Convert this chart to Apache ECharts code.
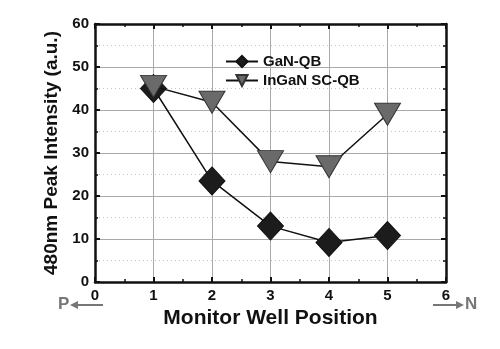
<!DOCTYPE html>
<html><head><meta charset="utf-8">
<script src="https://cdn.jsdelivr.net/npm/echarts@6/dist/echarts.min.js"></script>
<style>html,body{margin:0;padding:0;background:#fff}#c{width:500px;height:349px}</style>
</head><body><div id="c"></div>
<script>
const positions = [1, 2, 3, 4, 5];
const ganQB = [45, 23.5, 13, 9.2, 10.8];
const inganSCQB = [45.5, 41.8, 28, 26.8, 39];
const seriesNames = ['GaN-QB', 'InGaN SC-QB'];
const xTitle = 'Monitor Well Position';
const yTitle = '480nm Peak Intensity (a.u.)';

const FONT = '"Liberation Sans", Arial, sans-serif';
const chart = echarts.init(document.getElementById('c'), null, {renderer: 'canvas'});
const pair = (xs, ys) => xs.map((x, i) => [x, ys[i]]);

const tickInside = {show: true, inside: true, length: 5, lineStyle: {color: '#111', width: 2}};
const minorInside = {show: true, splitNumber: 2, length: 3, lineStyle: {color: '#111', width: 1.5}};

chart.setOption({
  backgroundColor: '#fff',
  animation: false,
  textStyle: {fontFamily: FONT},
  grid: {left: 95, right: 54, top: 24, bottom: 67, containLabel: false},
  legend: {
    orient: 'vertical', left: 220, top: 49, itemGap: 4,
    itemWidth: 32, itemHeight: 14,
    textStyle: {fontFamily: FONT, fontWeight: 'bold', fontSize: 15, color: '#111'},
    data: seriesNames
  },
  xAxis: [{
    type: 'value', min: 0, max: 6, interval: 1, position: 'bottom',
    axisLine: {show: true, onZero: false, lineStyle: {color: '#111', width: 2.5}},
    axisTick: tickInside, minorTick: minorInside,
    axisLabel: {color: '#111', fontWeight: 'bold', fontSize: 15, fontFamily: FONT, margin: 6},
    splitLine: {show: true, lineStyle: {color: '#aaa', width: 1}},
    name: xTitle, nameLocation: 'middle', nameGap: 26,
    nameTextStyle: {fontFamily: FONT, fontWeight: 'bold', fontSize: 21, color: '#111'}
  }, {
    type: 'value', min: 0, max: 6, interval: 1, position: 'top',
    axisLine: {show: true, onZero: false, lineStyle: {color: '#111', width: 2.5}},
    axisTick: tickInside, minorTick: minorInside,
    axisLabel: {show: false}, splitLine: {show: false}
  }],
  yAxis: [{
    type: 'value', min: 0, max: 60, interval: 10, position: 'left',
    axisLine: {show: true, onZero: false, lineStyle: {color: '#111', width: 2.5}},
    axisTick: tickInside, minorTick: minorInside,
    axisLabel: {color: '#111', fontWeight: 'bold', fontSize: 15, fontFamily: FONT, margin: 6},
    splitLine: {show: true, lineStyle: {color: '#aaa', width: 1}},
    minorSplitLine: {show: true, lineStyle: {color: '#c4c4c4', width: 1, type: [1, 3]}},
    name: yTitle, nameLocation: 'middle', nameGap: 33,
    nameTextStyle: {fontFamily: FONT, fontWeight: 'bold', fontSize: 19, color: '#111'}
  }, {
    type: 'value', min: 0, max: 60, interval: 10, position: 'right',
    axisLine: {show: true, onZero: false, lineStyle: {color: '#111', width: 2.5}},
    axisTick: tickInside, minorTick: minorInside,
    axisLabel: {show: false}, splitLine: {show: false}
  }],
  series: [{
    name: seriesNames[0], type: 'line', data: pair(positions, ganQB),
    symbol: 'diamond', symbolSize: [26, 28],
    itemStyle: {color: '#1c1c1c', borderColor: '#111', borderWidth: 1},
    lineStyle: {color: '#111', width: 1.5}, z: 3
  }, {
    name: seriesNames[1], type: 'line', data: pair(positions, inganSCQB),
    symbol: 'triangle', symbolRotate: 180, symbolSize: [26, 22],
    itemStyle: {color: '#6a6a6a', borderColor: '#333', borderWidth: 1},
    lineStyle: {color: '#111', width: 1.5}, z: 4
  }],
  graphic: [
    {type: 'text', left: 58, top: 296, style: {text: 'P', font: 'bold 17px ' + FONT, fill: '#777'}},
    {type: 'line', shape: {x1: 74, y1: 305, x2: 103, y2: 305}, style: {stroke: '#777', lineWidth: 2}},
    {type: 'polygon', shape: {points: [[70, 305], [78, 301], [78, 309]]}, style: {fill: '#777'}},
    {type: 'line', shape: {x1: 433, y1: 305, x2: 458, y2: 305}, style: {stroke: '#777', lineWidth: 2}},
    {type: 'polygon', shape: {points: [[464, 305], [456, 301], [456, 309]]}, style: {fill: '#777'}},
    {type: 'text', left: 465, top: 296, style: {text: 'N', font: 'bold 17px ' + FONT, fill: '#777'}}
  ]
});
</script></body></html>
